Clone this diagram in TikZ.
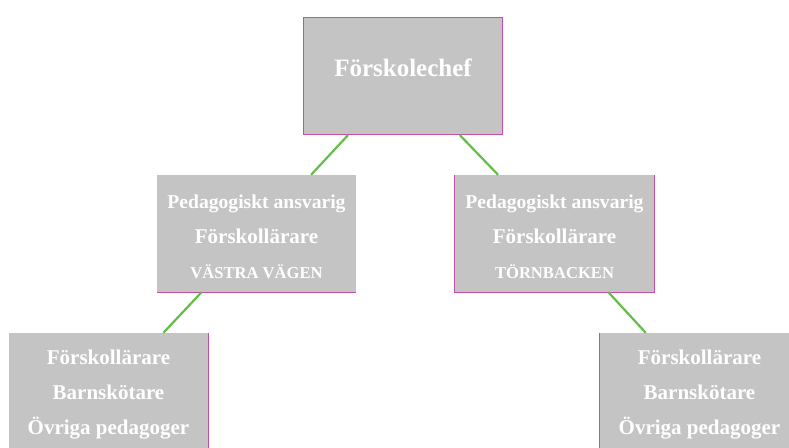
\documentclass[tikz,border=0pt]{standalone}
\usepackage{fontspec}
\setmainfont{Liberation Serif}
\definecolor{boxgray}{RGB}{195,196,195}
\definecolor{rimpink}{RGB}{196,78,168}
\definecolor{twig}{RGB}{98,190,68}
\newcommand{\liftline}{\rule{0pt}{20pt}}

\begin{document}
\begin{tikzpicture}[x=1pt,y=-1pt]

      \useasboundingbox (0,0) rectangle (789,447);

      \begin{scope}[every node/.style={rectangle,fill=boxgray,text=white,inner sep=0pt,
          minimum width=199pt,minimum height=117pt,align=center,
          font=\bfseries\fontsize{21}{35}\selectfont}]
        \node (1) at (403,76) [draw=rimpink,line width=1.2pt,
          font=\bfseries\fontsize{25}{30}\selectfont,text depth=17pt] {Förskolechef};
        \node (2) at (256.5,233.5) {{\fontsize{19.6}{35}\selectfont\liftline Pedagogiskt ansvarig}\\
          Förskollärare\\{\fontsize{16.6}{35}\selectfont VÄSTRA VÄGEN}};
        \node (3) at (554.5,233.5) {{\fontsize{19.6}{35}\selectfont\liftline Pedagogiskt ansvarig}\\
          Förskollärare\\{\fontsize{16.6}{35}\selectfont TÖRNBACKEN}};
        \node (4) at (108.5,391.5) {\liftline Förskollärare\\Barnskötare\\Övriga pedagoger};
        \node (5) at (699.5,391.5) {\liftline Förskollärare\\Barnskötare\\Övriga pedagoger};
      \end{scope}

      \begin{scope}[pinkline/.style={draw=rimpink,line width=1.2pt}]
        \draw[pinkline] (2.south west) -- (2.south east);
        \draw[pinkline] (3.north west) -- (3.south west) -- (3.south east) -- (3.north east);
        \draw[pinkline] (4.north east) -- (4.south east);
        \draw[pinkline] (5.north west) -- (5.south west);
      \end{scope}

      \begin{scope}[every edge/.style={draw=twig,line width=2.2pt}]
        \path (1) edge (2);
        \path (1) edge (3);
        \path (2) edge (4);
        \path (3) edge (5);
      \end{scope}

    \end{tikzpicture}
\end{document}
